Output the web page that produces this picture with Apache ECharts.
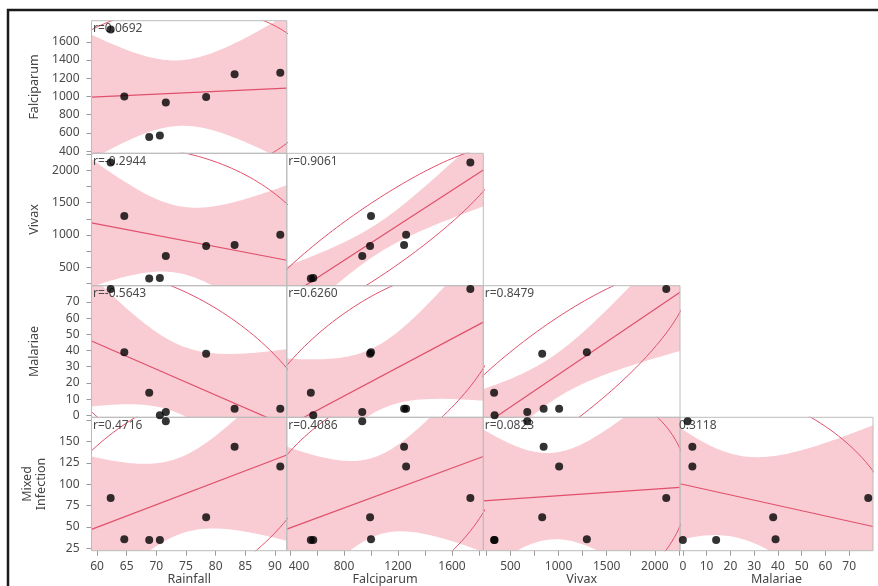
<!DOCTYPE html>
<html><head><meta charset="utf-8">
<script src="https://cdn.jsdelivr.net/npm/echarts@6/dist/echarts.min.js"></script>
<style>html,body{margin:0;padding:0;background:#fff}#c{width:878px;height:586px}</style>
</head><body><div id="c"></div>
<script>
// ---- data (8 observations) ----
const rainfall   = [62.3, 64.6, 68.8, 70.6, 71.6, 78.4, 83.2, 90.9];
const falciparum = [1736, 1000, 554, 572, 935, 993, 1245, 1260];
const vivax      = [2119, 1294, 330, 335, 675, 830, 845, 1006];
const malariae   = [78, 39, 14, 0, 2, 38, 4, 4];
const mixed      = [84, 35.5, 34.7, 34.7, 174, 61.3, 144, 121];

const colNames = ['Rainfall', 'Falciparum', 'Vivax', 'Malariae'];
const rowNames = ['Falciparum', 'Vivax', 'Malariae', 'Mixed\nInfection'];
const rLabels = [
  ['r=0.0692'],
  ['r=-0.2944', 'r=0.9061'],
  ['r=-0.5643', 'r=0.6260', 'r=0.8479'],
  ['r=0.4716', 'r=0.4086', 'r=0.0823', '0.3118']
];
const rainfallLabels   = [60, 65, 70, 75, 80, 85, 90];
const falciparumLabelsY = [400, 600, 800, 1000, 1200, 1400, 1600];
const falciparumLabelsX = [400, 800, 1200, 1600];
const falciparumTicksX  = [400, 600, 800, 1000, 1200, 1400, 1600, 1800];
const vivaxLabels = [500, 1000, 1500, 2000];
const vivaxTicks  = [250, 500, 750, 1000, 1250, 1500, 1750, 2000, 2250];
const malariaeLabels = [0, 10, 20, 30, 40, 50, 60, 70];
const mixedLabels = [25, 50, 75, 100, 125, 150];
const mixedTicks  = [25, 50, 75, 100, 125, 150, 175];

// ---- variable definitions ----
const vars = {
  Rainfall:   {data: rainfall,   range: [59.07, 92.0], labels: rainfallLabels, ticks: rainfallLabels},
  Falciparum: {data: falciparum, range: [376, 1832],  labels: falciparumLabelsX, ticks: falciparumTicksX,
               labelsY: falciparumLabelsY, ticksY: falciparumLabelsY, edgeLabel: 400},
  Vivax:      {data: vivax,      range: [218, 2262],  labels: vivaxLabels, ticks: vivaxTicks},
  Malariae:   {data: malariae,   range: [-1.2, 80],   labels: malariaeLabels, ticks: malariaeLabels},
  Mixed:      {data: mixed,      range: [22.2, 178.6], labels: mixedLabels, ticks: mixedTicks}
};
const colKeys = ['Rainfall', 'Falciparum', 'Vivax', 'Malariae'];
const rowKeys = ['Falciparum', 'Vivax', 'Malariae', 'Mixed'];

// ---- layout ----
const colLeft  = [91.5, 286.8, 483.3, 680];
const colWidth = [195.3, 196.5, 196.7, 193];
const rowTop    = [20.7, 153.3, 285.7, 417.3];
const rowHeight = [132.6, 132.4, 131.6, 133.4];

const BAND = '#f9ccd3';
const LINE = '#e0506c';
const FONT = 'Noto Sans';
const TXT = '#4a4a4a';
const T975 = 2.4469;   // t(0.975, df = 6)
const CHI2 = 5.9915;   // chi-square(0.95, df = 2)

function stats(xs, ys) {
  const n = xs.length;
  const mx = xs.reduce((a, b) => a + b, 0) / n;
  const my = ys.reduce((a, b) => a + b, 0) / n;
  let sxx = 0, syy = 0, sxy = 0;
  for (let i = 0; i < n; i++) {
    sxx += (xs[i] - mx) ** 2; syy += (ys[i] - my) ** 2; sxy += (xs[i] - mx) * (ys[i] - my);
  }
  const b = sxy / sxx, a = my - b * mx;
  const s = Math.sqrt(Math.max(syy - b * sxy, 0) / (n - 2));
  const r = sxy / Math.sqrt(sxx * syy);
  return {n, mx, my, sxx, syy, sxy, a, b, s, r,
          sdx: Math.sqrt(sxx / (n - 1)), sdy: Math.sqrt(syy / (n - 1))};
}
const plain = v => String(v);

const grids = [], xAxes = [], yAxes = [], series = [], graphics = [];
let k = 0;
for (let i = 0; i < 4; i++) {
  for (let j = 0; j <= i; j++) {
    const xv = vars[colKeys[j]], yv = vars[rowKeys[i]];
    const st = stats(xv.data, yv.data);
    grids.push({left: colLeft[j], top: rowTop[i], width: colWidth[j], height: rowHeight[i], show: false});
    const bottom = (i === 3), leftmost = (j === 0);
    const edge = xv.edgeLabel;
    xAxes.push({
      gridIndex: k, type: 'value', min: xv.range[0], max: xv.range[1],
      splitLine: {show: false}, axisLine: {show: false},
      axisTick: {show: bottom, length: 5, customValues: xv.ticks, lineStyle: {color: '#9a9a9a'}},
      axisLabel: {show: bottom, customValues: xv.labels, margin: 10,
                  formatter: v => (edge !== undefined && v === edge) ? '{e|' + v + '}' : String(v),
                  rich: {e: {padding: [0, 0, 0, 18], color: TXT, fontFamily: FONT, fontSize: 12}},
                  color: TXT, fontFamily: FONT, fontSize: 12}
    });
    const yl = yv.labelsY || yv.labels, yt = yv.ticksY || yv.ticks;
    yAxes.push({
      gridIndex: k, type: 'value', min: yv.range[0], max: yv.range[1],
      splitLine: {show: false}, axisLine: {show: false},
      axisTick: {show: leftmost, length: 5, customValues: yt, lineStyle: {color: '#9a9a9a'}},
      axisLabel: {show: leftmost, customValues: yl, formatter: plain, margin: 12,
                  color: TXT, fontFamily: FONT, fontSize: 12}
    });
    // mean confidence band
    const N = 80, up = [], lo = [];
    for (let q = 0; q <= N; q++) {
      const x = xv.range[0] + (xv.range[1] - xv.range[0]) * q / N;
      const f = st.a + st.b * x;
      const hw = T975 * st.s * Math.sqrt(1 / st.n + (x - st.mx) ** 2 / st.sxx);
      up.push([x, f + hw]); lo.push([x, f - hw]);
    }
    const poly = up.concat(lo.reverse());
    series.push({
      type: 'custom', xAxisIndex: k, yAxisIndex: k, clip: true, silent: true, z: 2,
      data: [[xv.range[0], yv.range[0]]],
      renderItem: (params, api) => ({
        type: 'polygon',
        shape: {points: poly.map(p => api.coord(p))},
        style: {fill: BAND, stroke: null}
      })
    });
    // 95% density ellipse
    const ell = [];
    const M = 180, rr = st.r, c = Math.sqrt(CHI2);
    for (let q = 0; q <= M; q++) {
      const th = 2 * Math.PI * q / M;
      ell.push([st.mx + st.sdx * c * Math.cos(th),
                st.my + st.sdy * c * (rr * Math.cos(th) + Math.sqrt(1 - rr * rr) * Math.sin(th))]);
    }
    series.push({type: 'line', xAxisIndex: k, yAxisIndex: k, data: ell, showSymbol: false, symbol: 'none',
      clip: true, silent: true, z: 3, lineStyle: {color: LINE, width: 1}});
    // fit line
    series.push({type: 'line', xAxisIndex: k, yAxisIndex: k,
      data: [[xv.range[0], st.a + st.b * xv.range[0]], [xv.range[1], st.a + st.b * xv.range[1]]],
      showSymbol: false, symbol: 'none', clip: true, silent: true, z: 3, lineStyle: {color: LINE, width: 1.2}});
    // points
    series.push({type: 'scatter', xAxisIndex: k, yAxisIndex: k, symbolSize: 8, z: 6, silent: true,
      itemStyle: {color: '#000'},
      data: xv.data.map((x, idx) => [x, yv.data[idx]])});
    // panel border
    graphics.push({type: 'rect', z: 4, silent: true,
      shape: {x: colLeft[j], y: rowTop[i], width: colWidth[j], height: rowHeight[i]},
      style: {fill: null, stroke: '#bcbcbc', lineWidth: 1}});
    // r label
    const lab = rLabels[i][j];
    graphics.push({type: 'text', z: 5, silent: true,
      x: (lab.startsWith('r') ? colLeft[j] + 1.5 : colLeft[j] - 1), y: rowTop[i] + 2,
      style: {text: lab, fill: TXT, font: '12px "' + FONT + '"', textVerticalAlign: 'top'}});
    k++;
  }
}
// axis names: rows (vertical)
for (let i = 0; i < 4; i++) {
  graphics.push({type: 'text', z: 5, silent: true, rotation: Math.PI / 2,
    x: 34, y: rowTop[i] + rowHeight[i] / 2,
    style: {text: rowNames[i], fill: '#444', font: '12.5px "' + FONT + '"', align: 'center',
            verticalAlign: 'middle', lineHeight: 14}});
}
for (let j = 0; j < 4; j++) {
  graphics.push({type: 'text', z: 5, silent: true,
    x: colLeft[j] + colWidth[j] / 2, y: 579,
    style: {text: colNames[j], fill: '#444', font: '12.5px "' + FONT + '"', align: 'center', verticalAlign: 'middle'}});
}
// outer frame
graphics.push({type: 'rect', z: 10, silent: true, shape: {x: 8, y: 10, width: 900, height: 620},
  style: {fill: null, stroke: '#1a1a1a', lineWidth: 2.5}});

const chart = echarts.init(document.getElementById('c'), null, {renderer: 'canvas'});
chart.setOption({
  animation: false,
  backgroundColor: '#fff',
  grid: grids, xAxis: xAxes, yAxis: yAxes, series: series,
  graphic: {elements: graphics}
});
</script>
</body></html>
